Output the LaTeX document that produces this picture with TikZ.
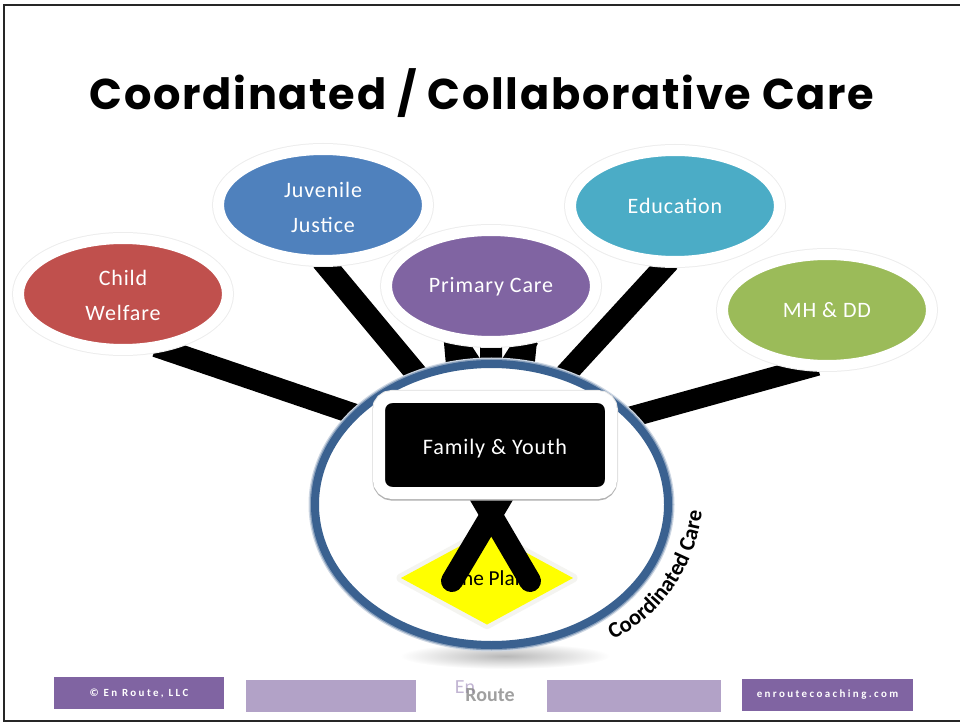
\documentclass[tikz,border=0pt]{standalone}
\usepackage{fontspec}
\setmainfont{Carlito}
\newfontfamily\bodyf[LetterSpace=4]{Carlito}
\newfontfamily\footf[LetterSpace=22]{Carlito}
\newfontfamily\titlef[LetterSpace=4]{Poppins}
\usetikzlibrary{shapes.geometric,calc,decorations.text}
\pgfdeclarelayer{conn}\pgfdeclarelayer{front}
\pgfsetlayers{conn,main,front}
\definecolor{cred}{HTML}{C0504D}
\definecolor{cblue}{HTML}{4F81BD}
\definecolor{cpurple}{HTML}{8064A2}
\definecolor{cteal}{HTML}{4BACC6}
\definecolor{cgreen}{HTML}{9BBB59}
\definecolor{cring}{HTML}{3A6190}
\definecolor{clight}{HTML}{B2A2C7}
\definecolor{cyellow}{HTML}{FFFF00}
\tikzset{
  x=0.75pt,y=-0.75pt,
  pill/.style={ellipse,fill=#1,draw=white,line width=11*0.75pt,
    minimum width=209*0.75pt,minimum height=111*0.75pt,inner sep=0pt,outer sep=0pt,
    text=white,align=center,font=\bodyf\fontsize{16.5}{26.4}\selectfont,
    preaction={draw=black!7,line width=13*0.75pt}},
  link/.style={draw=black,line width=21*0.75pt},
  wlink/.style={draw=black,line width=22*0.75pt},
  xlink/.style={draw=black,line width=22*0.75pt,line cap=round},
  bar/.style={fill=#1,minimum height=32*0.75pt,inner sep=0pt,outer sep=0pt,text=white,
    font=\footf\bfseries\fontsize{8.2}{9}\selectfont},
}
\begin{document}
\begin{tikzpicture}
\useasboundingbox (0,0) rectangle (960,723);
\draw[line width=2.2*0.75pt,black!85] (960,5) -- (4,5) -- (4,721) -- (960,721);
\node (title) at (482,93) {\titlef\bfseries\fontsize{32.3}{40}\selectfont Coordinated / Collaborative Care};
\node[pill=cred] (child) at (123,294) {\rule{0pt}{14pt}Child\\Welfare};
\node[pill=cblue] (juv) at (323,205) {\rule{0pt}{15pt}Juvenile\\Justice};
\node[pill=cteal] (edu) at (675,206) {Education};
\node[pill=cgreen] (mh) at (827,310) {MH \& DD};
\node[pill=cpurple,text height=12pt,text depth=2.8pt] (prim) at (491,286) {Primary Care};
\shade[inner color=black!28,outer color=white] (505,656) ellipse (105 and 13);
\node[ellipse,minimum width=353*0.75pt,minimum height=281*0.75pt,fill=white,draw=cring,
  line width=8*0.75pt,outer sep=0pt,inner sep=0pt,
  preaction={draw=cring!25,line width=13*0.75pt},
  preaction={draw=cring!60,line width=10.5*0.75pt}] (ring) at (491.5,504.5) {};
\node[diamond,fill=cyellow,minimum width=172*0.75pt,minimum height=88*0.75pt,inner sep=0pt,outer sep=0pt,
  text=black,font=\fontsize{16}{18}\selectfont,
  preaction={draw=cyellow!60,line width=4*0.75pt,line join=round},
  preaction={draw=cyellow!25!black!6,line width=9*0.75pt,line join=round}] (plan) at (487,578) {One Plan};
\begin{pgfonlayer}{front}
\node[rectangle,rounded corners=13*0.75pt,fill=black,draw=white,line width=12*0.75pt,
  minimum width=232*0.75pt,minimum height=96*0.75pt,inner sep=0pt,outer sep=0pt,
  text=white,font=\bodyf\fontsize{16.6}{18}\selectfont,text height=16pt,text depth=2.5pt,
  preaction={draw=black!10,line width=14*0.75pt},
  preaction={draw=black!30,line width=12*0.75pt,transform canvas={yshift=-1.2pt}}] (fam) at (495,445) {Family \& Youth};
\end{pgfonlayer}
\coordinate (xl) at (452,581);
\coordinate (xr) at (530,581);
\draw[xlink] (xl) -- (fam.-79);
\draw[xlink] (xr) -- (fam.-109);
\begin{pgfonlayer}{conn}
\draw[link] (child.-58) -- (fam.169);
\draw[link] (mh.-100) -- (fam.11);
\draw[wlink] (juv.-91) -- (fam.141);
\draw[wlink] (edu.-96) -- (fam.44);
\draw[wlink] (prim.-126) -- (fam.94);
\draw[wlink] (prim.-54) -- (fam.95.5);
\draw[wlink] (prim.south) -- (fam.94);
\draw[wlink] (prim.-125.5) -- (ring.104);
\draw[wlink] (prim.-56) -- (ring.77);
\end{pgfonlayer}
\path[postaction={decorate,decoration={text along path,text align=center,
  text={|\bfseries\fontsize{16.8}{18}\selectfont|Coordinated Care}}}]
  (605,643) .. controls (652,625) and (697,575) .. (703,503);
\node[bar=cpurple,minimum width=170*0.75pt] (b1) at (139,693) {© En Route, LLC};
\node[bar=clight,minimum width=170*0.75pt] (b2) at (331,696) {};
\node[bar=clight,minimum width=174*0.75pt] (b3) at (634,696) {};
\node[bar=cpurple,minimum width=171*0.75pt] (b4) at (827.5,695) {enroutecoaching.com};
\node[text=clight,font=\fontsize{15}{16}\selectfont,opacity=.8] (en) at (465,687) {En};
\node[text=black!50,font=\bfseries\fontsize{15}{16}\selectfont,opacity=.75] (route) at (490,695) {Route};
\end{tikzpicture}
\end{document}
